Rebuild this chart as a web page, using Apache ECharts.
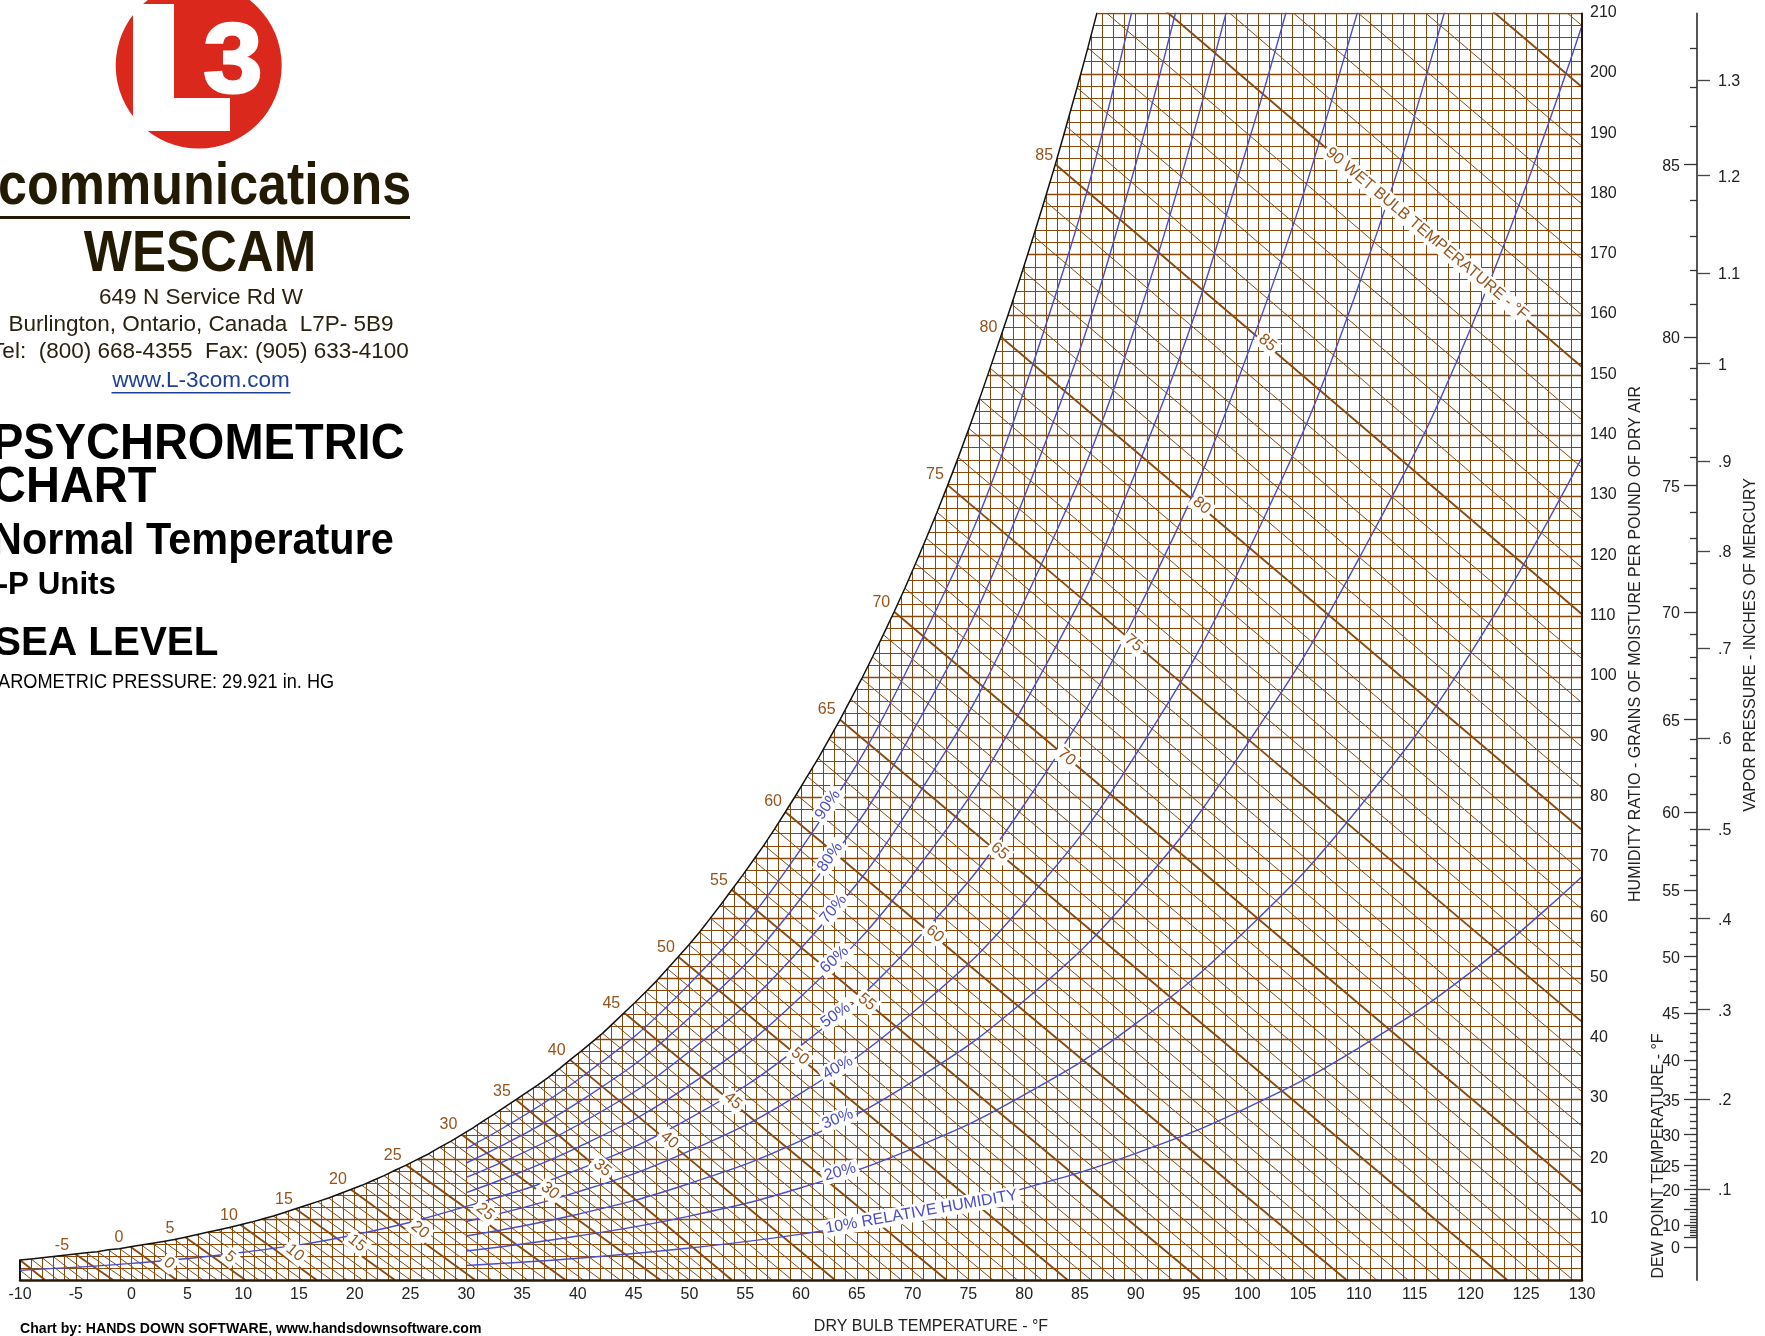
<!DOCTYPE html>
<html><head><meta charset="utf-8">
<style>html,body{margin:0;padding:0;background:#fff;overflow:hidden}#c{width:1765px;height:1336px}</style>
<script src="https://cdn.jsdelivr.net/npm/echarts@6/dist/echarts.min.js"></script>
</head><body><div id="c"></div>
<script>
// Wet-bulb / saturation temperatures, -11 .. 96 °F, read along the curved boundary
const wetBulbDeg = [-11,-10,-9,-8,-7,-6,-5,-4,-3,-2,-1,0,1,2,3,4,5,6,7,8,9,10,11,12,13,14,15,16,17,18,19,20,21,22,23,24,25,26,27,28,29,30,31,32,33,34,35,36,37,38,39,40,41,42,43,44,45,46,47,48,49,50,51,52,53,54,55,56,57,58,59,60,61,62,63,64,65,66,67,68,69,70,71,72,73,74,75,76,77,78,79,80,81,82,83,84,85,86,87,88,89,90,91,92,93,94,95,96];
const satGrains = [3.1,3.3,3.5,3.7,3.9,4.1,4.3,4.5,4.7,5.0,5.2,5.5,5.8,6.1,6.4,6.7,7.1,7.5,7.9,8.3,8.7,9.15,9.6,10.1,10.6,11.2,11.8,12.4,13.0,13.6,14.3,15.0,15.7,16.5,17.3,18.2,19.05,20.0,20.9,22.0,23.0,24.1,25.2,26.4,27.5,28.7,29.9,31.1,32.3,33.6,35.0,36.5,37.9,39.4,40.9,42.6,44.3,46.0,47.8,49.6,51.6,53.6,55.6,57.7,60.0,62.3,64.7,67.1,69.6,72.1,74.8,77.6,80.5,83.5,86.5,89.7,92.9,96.3,99.7,103.3,107,110.8,114.7,118.8,123,127.3,131.8,136.4,141.2,146.1,151.2,156.4,161.8,167.4,173.1,179,185,191.3,197.7,204.3,211.2,218.4,225.6,233,240.7,248.6,256.7,265];
const satDryBulb = [-11,-10,-9.01,-8.02,-7.03,-6.04,-5.05,-4.06,-3.07,-2.08,-1.09,-0.1,0.88,1.87,2.85,3.84,4.82,5.8,6.78,7.76,8.75,9.75,10.74,11.72,12.71,13.7,14.7,15.68,16.67,17.66,18.65,19.65,20.64,21.63,22.63,23.62,24.62,25.62,26.61,27.61,28.6,29.6,30.57,31.54,32.5,33.47,34.45,35.42,36.39,37.36,38.33,39.3,40.27,41.24,42.21,43.18,44.15,45.12,46.09,47.06,48.03,49,49.96,50.92,51.88,52.84,53.8,54.76,55.72,56.68,57.64,58.6,59.58,60.56,61.54,62.52,63.5,64.47,65.44,66.41,67.38,68.35,69.31,70.27,71.23,72.19,73.15,74.1,75.05,76,76.95,77.9,78.88,79.86,80.84,81.82,82.8,83.77,84.74,85.71,86.68,87.65,88.62,89.59,90.56,91.53,92.5,93.47];
// Where each wet-bulb line meets the bottom axis (dry bulb °F), wet bulb -11 .. 67
const wbBottomDry = [-8.9,-7.76,-6.6,-5.5,-4.3,-3,-1.66,-0.5,0.6,1.7,2.9,4.04,5.2,6.4,7.7,8.9,10.2,11.4,12.7,14,15.3,16.6,17.9,19.3,20.7,22.1,23.6,25,26.4,27.8,29.3,30.8,32.3,33.9,35.5,37.2,38.9,40.5,42.1,43.8,45.6,47.4,48.7,50,51.2,52.5,53.8,55.6,57.4,59.2,61.1,63.05,65,67,69,71,73.05,75.1,77.2,79.4,81.6,83.9,86,88.2,90.7,93.3,95.8,98.3,100.8,103.5,106.1,108.9,111.6,114.4,117.3,120.1,123.3,126.3,129.2];
// Where each wet-bulb line meets the right edge (grains), wet bulb 68 .. 96
const wbRightGrains = [4.4,9.8,14.6,20.2,25.5,31.2,37,42.8,48.9,55,61.5,67.7,74.6,81.6,88.4,95.7,103,110.4,118.1,126.2,134.7,142.6,151.4,160,169.3,178.4,188,197.8,208];
// Relative humidity curves (grains) at these dry bulb temperatures
const rhDry = [30,40,50,60,70,80,90,100,110,120,130];
const rh10 = [2.4,3.6,5.3,7.6,10.8,15.2,21,28.6,38.5,51,66.9];
const rh20 = [4.8,7.3,10.6,15.3,21.8,30.7,42.5,58.2,78.3,103.9,136.4];
const rh30 = [7.3,10.9,16,23.1,32.9,46.3,64.5,88.9,119.6,157.7,208];
const rh40 = [9.7,14.6,21.4,31,44.3,62.4,87.1,120.5,165,225,290];
const rh50 = [12.2,18.3,26.8,38.9,55.7,78.8,110.3,153.4,211,280];
const rh60 = [14.5,22,32.3,47,67.2,95.4,134,188,256];
const rh70 = [17,25.7,37.9,55,79,112.5,158.4,224];
const rh80 = [19.4,29.4,43.5,63.3,90.9,129.8,185,262];
const rh90 = [21.8,33.2,49.1,71.5,103,147.5,213,304];
const rh50LowDry = [-10,0,10,20];
const rh50Low = [1.62,2.75,4.6,7.5];
// Text on the chart
const satLabels = ['-5','0','5','10','15','20','25','30','35','40','45','50','55','60','65','70','75','80','85'];
const satLabelDry = [-6.24,-1.13,3.44,8.73,13.66,18.5,23.4,28.4,33.2,38.1,43,47.9,52.65,57.5,62.3,67.2,72,76.8,81.8];
const satLabelGrains = [5.64,7.1,8.6,10.6,13.4,16.7,20.6,25.7,31.3,38.1,45.9,55.1,66.2,79.3,94.5,112.3,133.5,157.9,186.4];
const wbLabels = ['0','5','10','15','20','25','30','35','40','45','50','55','60','65','70','75','80','85','90 WET BULB TEMPERATURE - °F'];
const wbLabelDry = [3.35,8.82,14.65,20.2,25.85,31.7,37.5,42.2,48.2,53.9,59.9,65.9,72,77.8,83.8,89.8,95.9,101.8,116.1];
const wbLabelGrains = [2.8,3.8,4.5,6.1,8.3,11.3,14.8,18.6,23.2,29.7,37.1,46.1,57.4,71.1,86.7,105.6,128.4,155.4,173.5];
const rhLabels = ['90%','80%','70%','60%','50%','40%','30%','20%','10% RELATIVE HUMIDITY'];
const rhLabelDry = [62.4,62.6,62.9,63,63.1,63.3,63.3,63.5,70.8];
const rhLabelGrains = [78.8,70.1,61.5,53.1,43.9,35.2,26.7,17.9,11.3];
const rhLabelTilt = [55,55,50,42,35,30,22,15,10];
// Far-right scales
const dewLabels = [85,80,75,70,65,60,55,50,45,40,35,30,25,20,10,0];
const dewMediumTicks = [15,5];
const vaporLabels = ['1.3','1.2','1.1','1','.9','.8','.7','.6','.5','.4','.3','.2','.1'];
const vaporGrains = [199,183.1,167,152,135.8,120.9,104.8,89.9,74.8,59.9,44.9,30,15.1];

const BROWN='#8a4708', BLUE='#4b4dc4', LABELBROWN='#95531b', INK='#231a04', AXIS='#222';
const FONT='"Liberation Sans",Arial,sans-serif';
const grainsAt = d => satGrains[wetBulbDeg.indexOf(d)];
const vertical=[], horizontal=[], horizontalTen=[], wbThin=[], wbThick=[];
for(let t=-10;t<=130;t++) vertical.push({coords:[[t,0],[t,210]]});
for(let w=2;w<=210;w+=2) (w%10===0?horizontalTen:horizontal).push({coords:[[-10,w],[130,w]]});
wetBulbDeg.forEach((d,i)=>{
  const end = d<=67 ? [wbBottomDry[i],0] : [130,wbRightGrains[i-wbBottomDry.length]];
  ((d%5===0)?wbThick:wbThin).push({coords:[[satDryBulb[i],satGrains[i]],end]});
});
const zip=(a,b)=>a.map((v,i)=>[v,b[i]]);
const gridLines=(data,width,color,z)=>({type:'lines',coordinateSystem:'cartesian2d',polyline:false,silent:true,z,clip:true,
  lineStyle:{color,width,opacity:1},effect:{show:false},symbol:'none',data});
const rhSeries=(vals,low)=>({type:'line',silent:true,z:6,symbol:'none',smooth:0.45,clip:true,
  lineStyle:{color:BLUE,width:1.4},data:(low?zip(rh50LowDry,rh50Low):[]).concat(zip(rhDry.slice(0,vals.length),vals))});
const textSeries=(names,xs,ys,color,fs,rot,bg)=>({type:'scatter',silent:true,z:9,symbolSize:1,itemStyle:{color:'transparent'},clip:false,
  data:names.map((n,i)=>({value:[xs[i],ys[i]],label:{show:true,position:'inside',formatter:n,rotate:rot(i),color,fontSize:fs,fontFamily:FONT,opacity:1,
    align:'center',verticalAlign:'middle',backgroundColor:bg?'#fff':'transparent',padding:bg?[1,3]:0}}))});
const T=(text,x,y,o)=>Object.assign({type:'text',z:20,x,y,style:Object.assign({text,fontFamily:FONT,fill:INK,align:'left',verticalAlign:'middle'},o&&o.style)},o&&o.el);
const dewMinor=wetBulbDeg.filter(d=>d>=6&&d<=88&&!dewLabels.includes(d)&&!dewMediumTicks.includes(d)).map(grainsAt);
const dewMajor=dewLabels.concat(dewMediumTicks).map(grainsAt);
const dewLabelAt=dewLabels.map(grainsAt);
const axisRich=pad=>({a:{color:AXIS,fontSize:16,fontFamily:FONT,padding:pad}});

const option={
  animation:false,backgroundColor:'#fff',
  grid:[{left:20,width:1562,top:13.5,height:1266.5,containLabel:false},{left:1697,width:1,top:13.5,height:1266.5}],
  xAxis:[{type:'value',gridIndex:0,min:-10,max:130,interval:5,z:10,splitLine:{show:false},axisTick:{show:false},
      axisLine:{show:true,onZero:false,lineStyle:{color:'#2a1808',width:2.5}},
      axisLabel:{color:AXIS,fontSize:16,fontFamily:FONT,margin:7,showMinLabel:true,showMaxLabel:true,hideOverlap:false}},
    {type:'value',gridIndex:1,min:0,max:1,show:false}],
  yAxis:[{type:'value',gridIndex:0,position:'right',min:0,max:210,interval:10,z:10,splitLine:{show:false},axisTick:{show:false},
      axisLine:{show:true,onZero:false,lineStyle:{color:'#2a1808',width:2}},
      axisLabel:{margin:8,rich:axisRich([0,0,2,0]),formatter:v=>v===0?'':'{a|'+v+'}',showMinLabel:true,showMaxLabel:true}},
    {type:'value',gridIndex:1,position:'left',min:0,max:210,z:10,splitLine:{show:false},
      axisLine:{show:true,onZero:false,lineStyle:{color:'#555',width:2}},
      axisTick:{show:true,length:13,lineStyle:{color:'#333',width:1.3},customValues:dewMajor},
      axisLabel:{margin:17,rich:axisRich([4,0,0,0]),customValues:dewLabelAt,formatter:v=>'{a|'+dewLabels[dewLabelAt.indexOf(v)]+'}'}},
    {type:'value',gridIndex:1,position:'left',min:0,max:210,z:10,splitLine:{show:false},
      axisLine:{show:false},axisLabel:{show:false},
      axisTick:{show:true,length:7,lineStyle:{color:'#333',width:1.3},customValues:dewMinor}},
    {type:'value',gridIndex:1,position:'right',min:0,max:210,z:10,splitLine:{show:false},
      axisLine:{show:false},
      axisTick:{show:true,length:12,lineStyle:{color:'#444',width:1.3},customValues:vaporGrains},
      axisLabel:{margin:20,rich:axisRich([4,0,0,0]),customValues:vaporGrains,formatter:v=>'{a|'+vaporLabels[vaporGrains.indexOf(v)]+'}'}}],
  series:[
    gridLines(vertical,1,BROWN,2),
    gridLines(horizontal,1,BROWN,2),
    gridLines(horizontalTen,1.3,BROWN,2),
    gridLines(wbThin,1,'#8a4a10',3),
    gridLines(wbThick,1.9,'#8a4a10',3),
    {type:'custom',silent:true,z:4,clip:false,coordinateSystem:'cartesian2d',data:[[-10,210]],
     renderItem:(p,api)=>{
       const pts=[api.coord([-10,210])].concat(zip(satDryBulb,satGrains).map(q=>api.coord(q)));
       const clipped=echarts.graphic.clipPointsByRect(pts,p.coordSys).map(q=>[q[0],q[1]<=p.coordSys.y+0.01?q[1]-3:q[1]]);
       return {type:'polygon',shape:{points:clipped},style:{fill:'#fff'}};
     }},
    {type:'line',silent:true,z:5,symbol:'none',clip:true,lineStyle:{color:'#111',width:1.5},data:zip(satDryBulb,satGrains)},
    gridLines([{coords:[[-10,0],[-10,satGrains[1]]]}],2,'#111',5),
    rhSeries(rh10),rhSeries(rh20),rhSeries(rh30),rhSeries(rh40),rhSeries(rh50,true),rhSeries(rh60),rhSeries(rh70),rhSeries(rh80),rhSeries(rh90),
    textSeries(satLabels,satLabelDry,satLabelGrains,LABELBROWN,16,()=>0,false),
    textSeries(wbLabels,wbLabelDry,wbLabelGrains,LABELBROWN,16,()=>-40,true),
    textSeries(rhLabels,rhLabelDry,rhLabelGrains,BLUE,16,i=>rhLabelTilt[i],true)
  ],
  graphic:[
    {type:'circle',z:20,shape:{cx:198.7,cy:65.6,r:83},style:{fill:'#da291c'}},
    {type:'rect',z:21,shape:{x:133,y:4,width:41,height:127},style:{fill:'#fff'}},
    {type:'rect',z:21,shape:{x:133,y:98,width:97,height:33},style:{fill:'#fff'}},
    Object.assign(T('3',233,65,{el:{scaleX:1.08},style:{fontSize:98,fontWeight:'bold',fill:'#fff',stroke:'#fff',lineWidth:3,align:'center'}}),{z:22}),
    T('communications',-2,188,{el:{scaleY:1.14},style:{fontSize:52,fontWeight:'bold'}}),
    {type:'rect',z:20,shape:{x:0,y:216,width:410,height:3},style:{fill:INK}},
    T('WESCAM',200,255,{el:{scaleY:1.12},style:{fontSize:51,fontWeight:'bold',align:'center'}}),
    T('649 N Service Rd W',201,298,{style:{fontSize:22.5,align:'center',fill:'#2a2210'}}),
    T('Burlington, Ontario, Canada  L7P- 5B9',201,325,{style:{fontSize:22.5,align:'center',fill:'#2a2210'}}),
    T('Tel:  (800) 668-4355  Fax: (905) 633-4100',200,352,{style:{fontSize:22.5,align:'center',fill:'#2a2210'}}),
    T('www.L-3com.com',201,381,{style:{fontSize:22.5,align:'center',fill:'#1e3f96'}}),
    {type:'rect',z:20,shape:{x:111.5,y:392,width:179,height:1.4},style:{fill:'#1e3f96'}},
    T('PSYCHROMETRIC',-8,445,{el:{scaleY:1.06},style:{fontSize:47,fontWeight:'bold',fill:'#000'}}),
    T('CHART',-8,488,{el:{scaleY:1.06},style:{fontSize:47,fontWeight:'bold',fill:'#000'}}),
    T('Normal Temperature',-8,542,{el:{scaleY:1.05},style:{fontSize:41.4,fontWeight:'bold',fill:'#000'}}),
    T('I-P Units',-11,585,{style:{fontSize:31.3,fontWeight:'bold',fill:'#000'}}),
    T('SEA LEVEL',-6,644,{style:{fontSize:40.4,fontWeight:'bold',fill:'#000'}}),
    T('BAROMETRIC PRESSURE: 29.921 in. HG',-14,682,{el:{scaleX:0.908},style:{fontSize:20,fill:'#000'}}),
    T('Chart by: HANDS DOWN SOFTWARE, www.handsdownsoftware.com',20,1329,{style:{fontSize:14.1,fontWeight:'bold',fill:'#000'}}),
    T('DRY BULB TEMPERATURE - °F',931,1327,{style:{fontSize:16,align:'center',fill:AXIS}}),
    T('HUMIDITY RATIO - GRAINS OF MOISTURE PER POUND OF DRY AIR',1636,644,{el:{rotation:Math.PI/2},style:{fontSize:16,align:'center',fill:AXIS}}),
    T('DEW POINT TEMPERATURE - °F',1659,1156,{el:{rotation:Math.PI/2},style:{fontSize:16,align:'center',fill:AXIS}}),
    T('VAPOR PRESSURE - INCHES OF MERCURY',1751,645,{el:{rotation:Math.PI/2},style:{fontSize:16,align:'center',fill:AXIS}})
  ]
};
const chart=echarts.init(document.getElementById('c'),null,{renderer:'canvas',devicePixelRatio:1});
chart.setOption(option);
</script></body></html>
